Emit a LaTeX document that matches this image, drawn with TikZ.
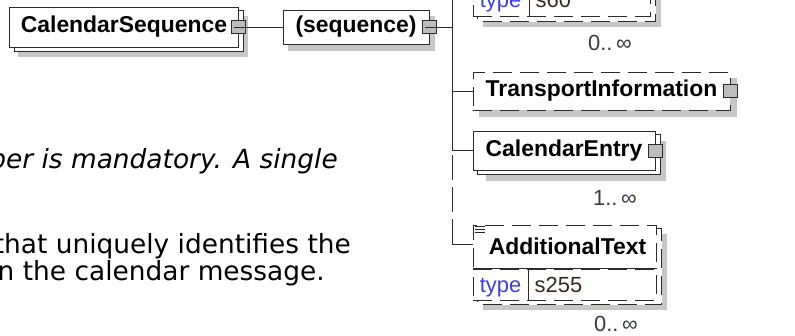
\documentclass[tikz,border=0pt]{standalone}
\usepackage{fontspec}
\setmainfont{Liberation Sans}
\newfontfamily\bodyfont{DejaVu Sans}
\usetikzlibrary{backgrounds}
\definecolor{linec}{HTML}{2B2B2B}
\definecolor{shadowc}{HTML}{C6C6C6}
\definecolor{sqc}{HTML}{BDBDBD}
\definecolor{typec}{HTML}{3C3CF0}
\definecolor{occc}{HTML}{3A3A4C}
\definecolor{valc}{HTML}{332A22}
\newcommand\ElFont{\fontsize{23}{26}\selectfont\bfseries}
\newcommand\SmFont{\fontsize{22}{25}\selectfont}
\newcommand\BodyFont{\bodyfont\fontsize{26.5}{30}\selectfont}
\tikzset{
  lw/.style={line width=1bp, draw=linec},
  front/.style={lw, fill=white, inner sep=0pt, font=\ElFont, text=black},
  dsh/.style={dash pattern=on 19bp off 8bp},
  vdsh/.style={dash pattern=on 25bp off 7bp},
  sq/.style={lw, fill=sqc, minimum width=14bp, minimum height=13bp, inner sep=0pt},
  occ/.style={font=\SmFont, text=occc, inner sep=0pt},
  typet/.style={font=\SmFont, text=typec, inner sep=0pt},
  valt/.style={font=\SmFont, text=valc, inner sep=0pt},
  bodyt/.style={font=\BodyFont, text=black, inner sep=0pt},
}
\begin{document}
\begin{tikzpicture}[x=1bp,y=-1bp]
\useasboundingbox (0,0) rectangle (795,335);

% ---- CalendarSequence
\node[front, minimum width=228bp, minimum height=40bp] (cs) at (124,27) {CalendarSequence};
\node[sq] (cssq) at (cs.east) {};
\draw[lw] ([xshift=3bp]cssq.west) -- (cssq.east);

% ---- (sequence)
\node[front, minimum width=146bp, minimum height=34bp] (seq) at (356,27) {(sequence)};
\node[sq] (seqsq) at (seq.east) {};
\draw[lw] ([xshift=3bp]seqsq.west) -- (seqsq.east);
\draw[lw] (cssq.east) -- (seq.west);

% ---- top element (cut off)
\node[front, dsh, minimum width=177bp, minimum height=43bp] (tn) at (561.5,-37.5) {};
\node[front, dsh, minimum width=177bp, minimum height=31bp, anchor=north west] (tt) at (tn.south west) {};
\draw[lw] (tn.south west) -- (tn.south east);
\draw[lw] ([xshift=57bp]tt.north west) -- ([xshift=57bp]tt.south west);
\node[typet, anchor=base] (ttl) at ([shift={(28,-9)}]tt.south west) {type};
\node[valt, anchor=base west] (ttv) at ([shift={(63,-9)}]tt.south west) {s60};
\node[occ] (o1) at (610,43) {0..\,∞};

% ---- TransportInformation
\node[front, dsh, minimum width=257bp, minimum height=38bp] (ti) at (601.5,91) {TransportInformation};
\node[sq] (tisq) at (ti.east) {};

% ---- CalendarEntry
\node[front, minimum width=182bp, minimum height=39bp] (ce) at (564,150.5) {CalendarEntry};
\node[sq] (cesq) at (ce.east) {};
\node[occ] (o2) at (615,198) {1..\,∞};

% ---- AdditionalText
\node[front, dsh, minimum width=183bp, minimum height=43bp] (ai) at (564.5,246.5) {\hspace{6bp}AdditionalText};
\node[front, dsh, minimum width=183bp, minimum height=31bp, anchor=north west] (at) at (ai.south west) {};
\draw[lw] (ai.south west) -- (ai.south east);
\draw[lw] ([xshift=56bp]at.north west) -- ([xshift=56bp]at.south west);
\node[typet, anchor=base] (atl) at ([shift={(28,-8)}]at.south west) {type};
\node[valt, anchor=base west] (atv) at ([shift={(62,-8)}]at.south west) {s255};
\draw[lw] ([shift={(2,2)}]ai.north west) -- ([shift={(12,2)}]ai.north west);
\draw[lw] ([shift={(2,5)}]ai.north west) -- ([shift={(12,5)}]ai.north west);
\draw[lw] ([shift={(2,8)}]ai.north west) -- ([shift={(12,8)}]ai.north west);
\node[occ] (o3) at (616,324) {0..\,∞};

% ---- tree connectors
\coordinate (jTop) at (452,-37.5);
\coordinate (jS) at (452,27);
\coordinate (jT) at (452,91);
\coordinate (jC) at (452,150.5);
\coordinate (jA) at (452,244);
\draw[lw] (seqsq.east) -- (jS);
\draw[lw] (jTop) -- (tn.west);
\draw[lw] (jTop) -- (jC);
\draw[lw, vdsh] (jA) -- (jC);
\draw[lw] (jT) -- (ti.west);
\draw[lw] (jC) -- (ce.west);
\draw[lw] (jA) -- (jA -| ai.west);

% ---- description text
\node[bodyt, anchor=base east] (d1) at (338,168) {\itshape per is mandatory. A single};
\node[bodyt, anchor=base east] (d2) at (351,253) {that uniquely identifies the};
\node[bodyt, anchor=base east] (d3) at (325,280) {n the calendar message.};

% ---- shadows and stacked copies
\begin{scope}[on background layer]
  \fill[white] (-10,-10) rectangle (805,345);
  \fill[shadowc] ([shift={(9,9)}]cs.south west) rectangle ([shift={(9,9)}]cs.north east);
  \draw[lw, fill=white] ([shift={(5,4)}]cs.south west) rectangle ([shift={(5,4)}]cs.north east);
  \fill[shadowc] ([shift={(5,6)}]seq.south west) rectangle ([shift={(5,6)}]seq.north east);
  \fill[shadowc] ([shift={(10,10)}]tn.north west) rectangle ([shift={(10,10)}]tt.south east);
  \draw[lw, dsh, fill=white] ([shift={(5,5)}]tn.north west) rectangle ([shift={(5,5)}]tt.south east);
  \fill[shadowc] ([shift={(6,6)}]ti.south west) rectangle ([shift={(6,6)}]ti.north east);
  \fill[shadowc] ([shift={(13,10)}]ce.south west) rectangle ([shift={(10,10)}]ce.north east);
  \draw[lw, fill=white] ([shift={(5,4)}]ce.south west) rectangle ([shift={(5,4)}]ce.north east);
  \fill[shadowc] ([shift={(10,9)}]ai.north west) rectangle ([shift={(10,9)}]at.south east);
  \draw[lw, dsh, fill=white] ([shift={(5,4)}]ai.north west) rectangle ([shift={(5,4)}]at.south east);
\end{scope}
\end{tikzpicture}
\end{document}
